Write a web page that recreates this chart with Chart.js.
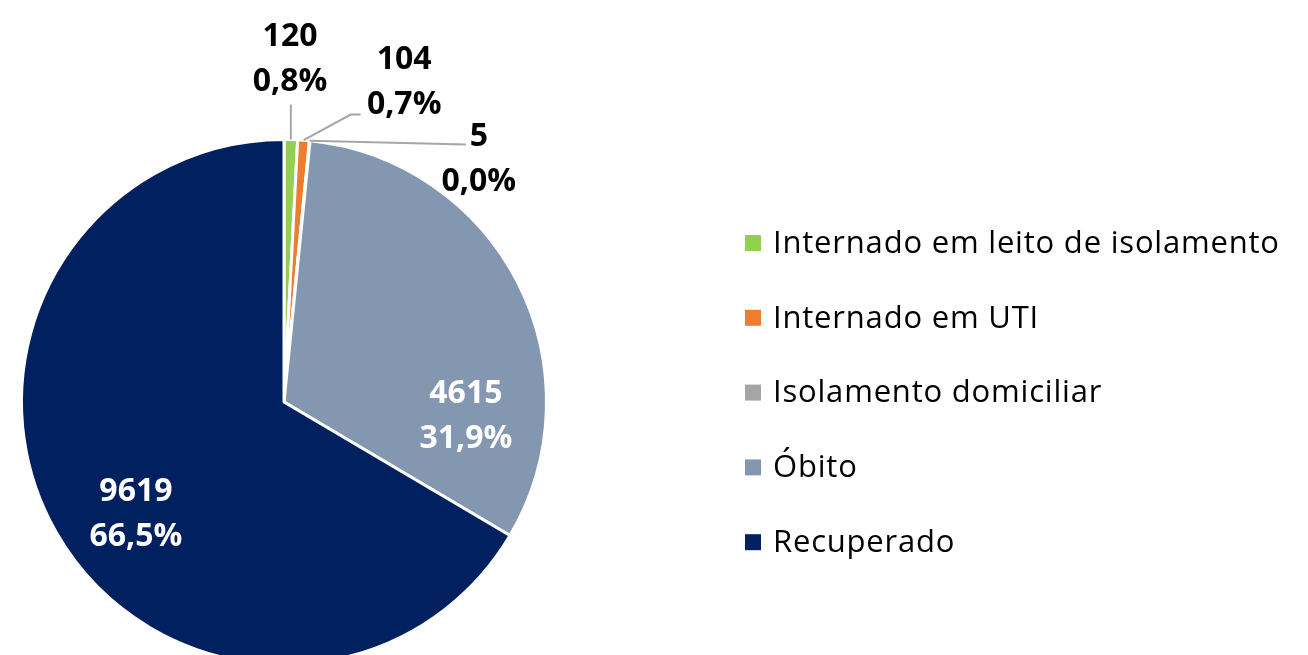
<!DOCTYPE html>
<html>
<head>
<meta charset="utf-8">
<script src="https://cdn.jsdelivr.net/npm/chart.js@4.4.0/dist/chart.umd.min.js"></script>
<style>
  html, body { margin: 0; padding: 0; background: #fff; overflow: hidden; }
  #wrap { width: 1308px; height: 680px; }
</style>
</head>
<body>
<div id="wrap"><canvas id="pieChart" width="1308" height="680"></canvas></div>
<script>
// --- data ---
const categories = [
    'Internado em leito de isolamento',
    'Internado em UTI',
    'Isolamento domiciliar',
    'Óbito',
    'Recuperado'
];
const cases = [120, 104, 5, 4615, 9619];
const sliceColors = ['#92D050', '#ED7D31', '#A5A5A5', '#8497B0', '#002060'];

// label placement, in fractions of the radius from the pie centre
const labelPos = [
    [0.023, -1.307],
    [0.458, -1.22],
    [0.742, -0.928],
    [0.693, 0.053],
    [-0.564, 0.428]
];
const labelColor = ['#000', '#000', '#000', '#fff', '#fff'];
// leader line points (radius fractions), null = keep the x of the slice edge
const leaders = [
    [[null, -1.133]],
    [[0.254, -1.095], [0.292, -1.095]],
    [[0.693, -0.981]],
    null,
    null
];

const total = cases.reduce((a, b) => a + b, 0);
const pct = v => (v / total * 100).toFixed(1).replace('.', ',') + '%';

// --- plugin: data labels with leader lines ---
const sliceLabels = {
    id: 'sliceLabels',
    afterDatasetsDraw(chart) {
        const ctx = chart.ctx;
        const arcs = chart.getDatasetMeta(0).data;
        ctx.save();
        arcs.forEach((arc, i) => {
            const { x, y, outerRadius: r, startAngle, endAngle } = arc.getProps(['x', 'y', 'outerRadius', 'startAngle', 'endAngle'], true);
            const mid = (startAngle + endAngle) / 2;
            const ox = x + r * Math.cos(mid);
            const oy = y + r * Math.sin(mid);

            if (leaders[i]) {
                ctx.strokeStyle = '#A6A6A6';
                ctx.lineWidth = 2;
                ctx.beginPath();
                ctx.moveTo(ox, oy);
                leaders[i].forEach(p => {
                    const px = p[0] === null ? ox : x + p[0] * r;
                    ctx.lineTo(px, y + p[1] * r);
                });
                ctx.stroke();
            }

            const lx = x + labelPos[i][0] * r;
            const ly = y + labelPos[i][1] * r;
            ctx.fillStyle = labelColor[i];
            ctx.font = 'bold 32px "Open Sans"';
            ctx.textAlign = 'center';
            ctx.textBaseline = 'middle';
            ctx.fillText(String(cases[i]), lx, ly - 22);
            ctx.fillText(pct(cases[i]), lx, ly + 23);
        });
        ctx.restore();
    }
};

// --- plugin: legend on the right ---
const sideLegend = {
    id: 'sideLegend',
    afterDraw(chart) {
        const ctx = chart.ctx;
        ctx.save();
        ctx.font = '31px "Open Sans"';
        ctx.letterSpacing = '0.8px';
        ctx.textAlign = 'left';
        ctx.textBaseline = 'middle';
        categories.forEach((name, i) => {
            const cy = 243 + i * 74.8;
            ctx.fillStyle = sliceColors[i];
            ctx.fillRect(745, cy - 8, 16, 16);
            ctx.fillStyle = '#000';
            ctx.fillText(name, 773, cy + 1);
        });
        ctx.restore();
    }
};

const ctx = document.getElementById('pieChart').getContext('2d');
new Chart(ctx, {
    type: 'pie',
    data: {
        labels: categories,
        datasets: [{
            data: cases,
            backgroundColor: sliceColors,
            borderColor: '#fff',
            borderWidth: 3
        }]
    },
    options: {
        responsive: false,
        animation: false,
        layout: { padding: { left: 20, top: 138, right: 760, bottom: 14 } },
        plugins: {
            legend: { display: false },
            tooltip: { enabled: false }
        }
    },
    plugins: [sliceLabels, sideLegend]
});
</script>
</body>
</html>
